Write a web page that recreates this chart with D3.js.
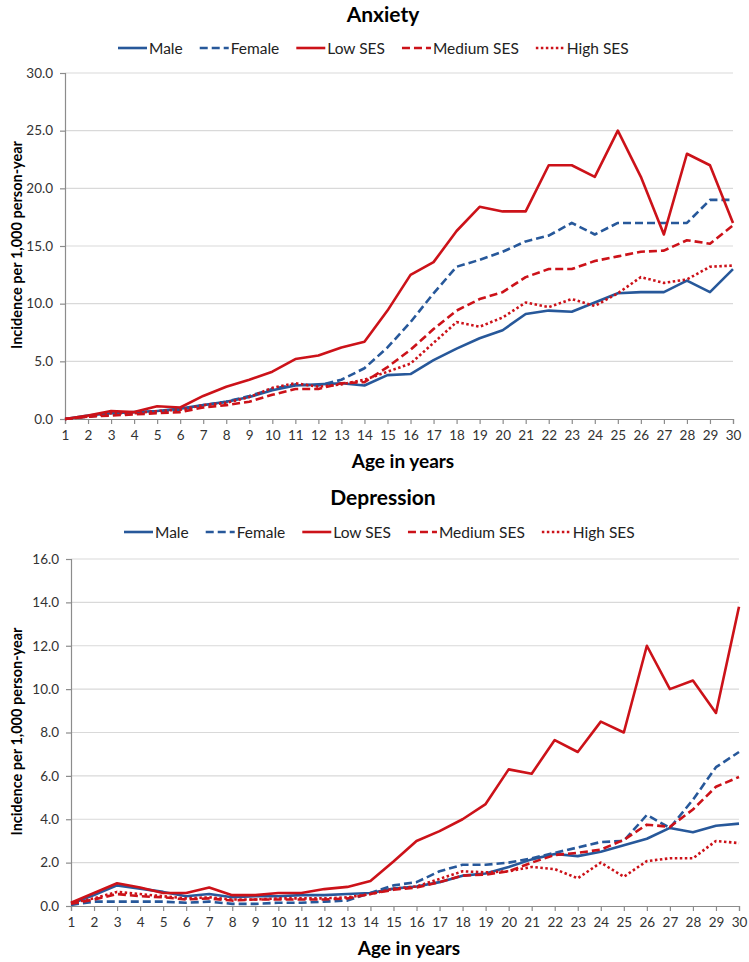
<!DOCTYPE html>
<html>
<head>
<meta charset="utf-8">
<script src="https://cdn.jsdelivr.net/npm/d3@7"></script>
<style>
    body { margin: 0; background: #fff; }
    svg { display: block; font-family: Lato, "Open Sans", sans-serif; }
</style>
</head>
<body>
<svg id="chart" width="749" height="962"></svg>
<script>
(function () {
    "use strict";

    const ages = d3.range(1, 31);

    const seriesNames = ["Male", "Female", "Low SES", "Medium SES", "High SES"];

    // Anxiety, incidence per 1,000 person-year
    const anxietyMale =   [0.0, 0.3, 0.5, 0.6, 0.7, 0.9, 1.2, 1.5, 1.9, 2.5, 2.9, 3.0, 3.1, 2.9, 3.8, 3.9, 5.1, 6.1, 7.0, 7.7, 9.1, 9.4, 9.3, 10.1, 10.9, 11.0, 11.0, 12.0, 11.0, 13.0];
    const anxietyFemale = [0.0, 0.2, 0.4, 0.5, 0.6, 0.8, 1.2, 1.5, 2.0, 2.6, 3.0, 2.9, 3.4, 4.4, 6.2, 8.4, 10.9, 13.2, 13.8, 14.5, 15.4, 15.9, 17.0, 16.0, 17.0, 17.0, 17.0, 17.0, 19.0, 19.0];
    const anxietyLow =    [0.0, 0.3, 0.7, 0.6, 1.1, 1.0, 2.0, 2.8, 3.4, 4.1, 5.2, 5.5, 6.2, 6.7, 9.4, 12.5, 13.6, 16.3, 18.4, 18.0, 18.0, 22.0, 22.0, 21.0, 25.0, 21.0, 16.0, 23.0, 22.0, 17.0];
    const anxietyMedium = [0.0, 0.2, 0.3, 0.4, 0.5, 0.6, 1.0, 1.2, 1.5, 2.1, 2.6, 2.6, 3.1, 3.2, 4.5, 6.0, 7.8, 9.4, 10.4, 11.0, 12.3, 13.0, 13.0, 13.7, 14.1, 14.5, 14.6, 15.5, 15.2, 16.8];
    const anxietyHigh =   [0.0, 0.2, 0.5, 0.5, 0.7, 0.8, 1.2, 1.4, 1.9, 2.7, 3.1, 2.8, 3.0, 3.4, 4.1, 4.8, 6.6, 8.4, 8.0, 8.8, 10.1, 9.7, 10.4, 9.8, 10.9, 12.3, 11.8, 12.1, 13.2, 13.3];

    // Depression, incidence per 1,000 person-year
    const depressionMale =   [0.1, 0.5, 0.95, 0.8, 0.65, 0.45, 0.55, 0.4, 0.45, 0.45, 0.5, 0.5, 0.55, 0.6, 0.8, 0.9, 1.1, 1.4, 1.5, 1.8, 2.15, 2.4, 2.3, 2.5, 2.8, 3.1, 3.6, 3.4, 3.7, 3.8];
    const depressionFemale = [0.05, 0.2, 0.2, 0.2, 0.2, 0.15, 0.2, 0.1, 0.1, 0.15, 0.15, 0.2, 0.25, 0.6, 0.95, 1.1, 1.6, 1.9, 1.9, 2.0, 2.2, 2.45, 2.7, 2.95, 3.0, 4.2, 3.6, 4.9, 6.4, 7.1];
    const depressionLow =    [0.15, 0.6, 1.05, 0.85, 0.6, 0.6, 0.85, 0.5, 0.5, 0.6, 0.6, 0.78, 0.88, 1.15, 2.05, 3.0, 3.45, 4.0, 4.7, 6.3, 6.1, 7.65, 7.1, 8.5, 8.0, 12.0, 10.0, 10.4, 8.9, 13.8];
    const depressionMedium = [0.1, 0.3, 0.55, 0.45, 0.4, 0.3, 0.35, 0.25, 0.3, 0.3, 0.3, 0.3, 0.35, 0.55, 0.75, 0.85, 1.1, 1.4, 1.45, 1.6, 2.0, 2.35, 2.45, 2.6, 3.05, 3.75, 3.65, 4.45, 5.5, 5.95];
    const depressionHigh =   [0.15, 0.35, 0.65, 0.55, 0.45, 0.35, 0.4, 0.3, 0.3, 0.35, 0.35, 0.35, 0.4, 0.55, 0.8, 0.9, 1.25, 1.6, 1.55, 1.6, 1.8, 1.7, 1.28, 2.0, 1.35, 2.07, 2.2, 2.2, 3.0, 2.9];

    const anxietyTicks = [0, 5, 10, 15, 20, 25, 30];
    const depressionTicks = [0, 2, 4, 6, 8, 10, 12, 14, 16];

    const blue = "#27589a";
    const red = "#cc1219";

    const styles = [
        { color: blue, dash: null },
        { color: blue, dash: "8,4" },
        { color: red, dash: null },
        { color: red, dash: "8,4" },
        { color: red, dash: "2.5,2.5" }
    ];

    const svg = d3.select("#chart");

    function drawPanel(cfg) {
        const x = d3.scaleLinear()
            .domain([1, 30])
            .range([cfg.left, cfg.right]);

        const y = d3.scaleLinear()
            .domain([0, d3.max(cfg.ticks)])
            .range([cfg.bottom, cfg.top]);

        const g = svg.append("g");

        // title
        g.append("text")
            .attr("x", 383)
            .attr("y", cfg.titleY)
            .attr("text-anchor", "middle")
            .attr("font-size", 21)
            .attr("font-weight", "bold")
            .attr("fill", "#000")
            .text(cfg.title);

        // gridlines
        g.append("g")
            .selectAll("line")
            .data(cfg.ticks.slice(1))
            .join("line")
            .attr("x1", cfg.left)
            .attr("x2", cfg.right)
            .attr("y1", d => y(d))
            .attr("y2", d => y(d))
            .attr("stroke", "#d9d9d9")
            .attr("stroke-width", 1.2);

        // axes
        const yAxis = g.append("g")
            .attr("transform", `translate(${cfg.left},0)`)
            .call(d3.axisLeft(y).tickValues(cfg.ticks).tickFormat(d3.format(".1f")).tickSize(5).tickPadding(7));

        const xAxis = g.append("g")
            .attr("transform", `translate(0,${cfg.bottom})`)
            .call(d3.axisBottom(x).tickValues(ages).tickFormat(d3.format("d")).tickSize(5).tickPadding(6));

        [yAxis, xAxis].forEach((ax) => {
            ax.selectAll("path, line").attr("stroke", "#8c8c8c").attr("stroke-width", 1.2);
            ax.selectAll("text")
                .attr("fill", "#333")
                .attr("font-size", 13.5)
                .attr("font-family", "Lato, sans-serif");
        });

        // axis titles
        g.append("text")
            .attr("x", 403 + cfg.shift)
            .attr("y", cfg.bottom + 49)
            .attr("text-anchor", "middle")
            .attr("font-size", 19)
            .attr("font-weight", "bold")
            .text("Age in years");

        g.append("text")
            .attr("transform", `translate(22,${(cfg.top + cfg.bottom) / 2 - 1}) rotate(-90)`)
            .attr("text-anchor", "middle")
            .attr("font-size", 14.5)
            .attr("font-weight", "bold")
            .text("Incidence per 1,000 person-year");

        // lines
        const line = d3.line()
            .x((d, i) => x(ages[i]))
            .y(d => y(d));

        g.append("g")
            .selectAll("path")
            .data(cfg.series)
            .join("path")
            .attr("d", d => line(d))
            .attr("fill", "none")
            .attr("stroke", (d, i) => styles[i].color)
            .attr("stroke-width", 2.6)
            .attr("stroke-linejoin", "round")
            .attr("stroke-dasharray", (d, i) => styles[i].dash);

        // legend
        const legend = g.append("g")
            .attr("transform", `translate(${cfg.legendX},${cfg.legendY})`);

        let offset = 0;
        seriesNames.forEach((name, i) => {
            const item = legend.append("g").attr("transform", `translate(${offset},0)`);
            item.append("line")
                .attr("x1", 0)
                .attr("x2", 29)
                .attr("y1", 0)
                .attr("y2", 0)
                .attr("stroke", styles[i].color)
                .attr("stroke-width", 2.6)
                .attr("stroke-dasharray", styles[i].dash);
            const label = item.append("text")
                .attr("x", 31)
                .attr("y", 5.5)
                .attr("font-size", 15.5)
                .attr("fill", "#222")
                .text(name);
            offset += 31 + label.node().getComputedTextLength() + 17;
        });
    }

    drawPanel({
        title: "Anxiety",
        titleY: 22,
        legendX: 118,
        legendY: 48,
        left: 65,
        right: 733,
        top: 73,
        bottom: 419,
        shift: 0,
        ticks: anxietyTicks,
        series: [anxietyMale, anxietyFemale, anxietyLow, anxietyMedium, anxietyHigh]
    });

    drawPanel({
        title: "Depression",
        titleY: 505,
        legendX: 124,
        legendY: 532,
        left: 71,
        right: 739,
        top: 559,
        bottom: 906,
        shift: 6,
        ticks: depressionTicks,
        series: [depressionMale, depressionFemale, depressionLow, depressionMedium, depressionHigh]
    });
}());
</script>
</body>
</html>
